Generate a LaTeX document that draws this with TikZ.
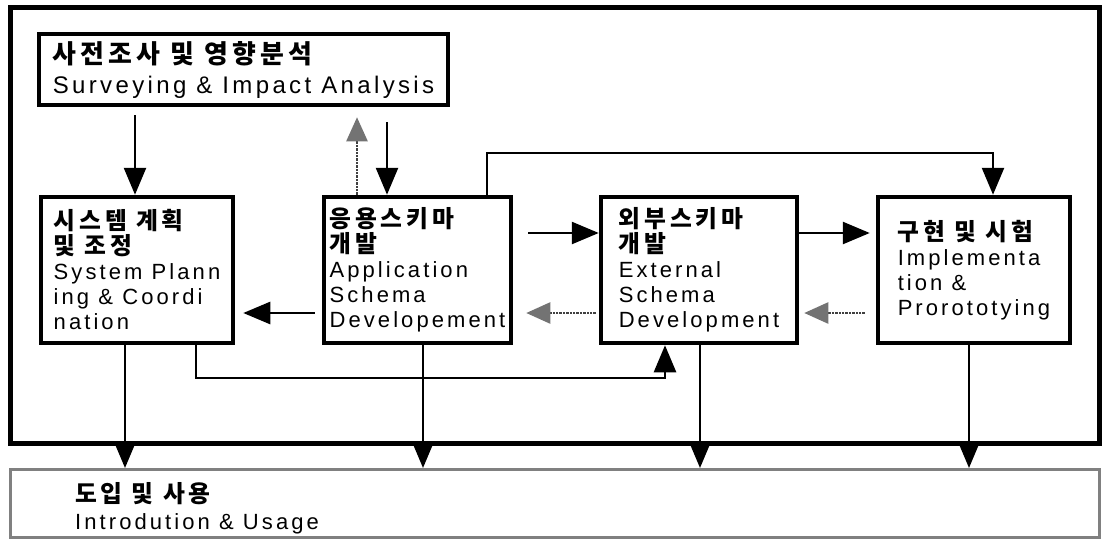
\documentclass[tikz,border=0pt]{standalone}
\usepackage{fontspec}
\setmainfont{Liberation Sans}[LetterSpace=14]
\newfontfamily\kr{Noto Sans CJK KR}[LetterSpace=16,Scale=1.08]
\usetikzlibrary{arrows.meta,calc}
\tikzset{
  stagebox/.style={draw, line width=4.5pt, minimum width=#1, minimum height=146pt,
    inner xsep=0pt, inner ysep=2pt, align=left, font=\fontsize{22}{25}\selectfont},
  arr/.style={line width=2.6pt, -{Triangle[length=27pt,width=22pt]}},
  garr/.style={line width=2.4pt, densely dotted, draw=black!75,
    -{Triangle[length=24pt,width=21pt,fill=black!55,color=black!55]}},
}
\begin{document}
\begin{tikzpicture}[x=1pt,y=-1pt]
\useasboundingbox (0,0) rectangle (1105,541);
% outer frame and bottom bar
\node[draw, line width=5.5pt, minimum width=1089pt, minimum height=436pt, inner sep=0] (F) at (555,225.5) {};
\node[draw=black!50, line width=3pt, minimum width=1089pt, minimum height=68pt, inner sep=0] (U) at (555.25,503.5) {};
\node[anchor=west, align=left, inner sep=0, font=\fontsize{22}{27}\selectfont] (UT) at (75,508.5)
  {{\kr\bfseries 도입 및 사용}\\Introdution \& Usage};
% top box
\node[draw, line width=4.5pt, minimum width=409pt, minimum height=71pt, inner xsep=0pt, align=left,
  font=\fontsize{24}{30}\selectfont] (T) at (243.5,69.5)
  {{\kr\bfseries 사전조사 및 영향분석}\\Surveying \& Impact Analysis};
% stage boxes
\node[stagebox=192pt] (A) at (137,270)
  {{\kr\bfseries 시스템 계획}\\{\kr\bfseries 및 조정}\\System Plann\\ing \& Coordi\\nation};
\node[stagebox=187pt] (B) at (417.5,270)
  {{\kr\bfseries 응용스키마}\\{\kr\bfseries 개발}\\Application\\Schema\\Developement};
\node[stagebox=196pt] (C) at (699,270)
  {{\kr\bfseries 외부스키마}\\{\kr\bfseries 개발}\\External\\Schema\\Development};
\node[stagebox=192pt] (D) at (974,270)
  {{\kr\bfseries 구현 및 시험}\\Implementa\\tion \&\\Prorototying};
% connectors
\draw[arr, shorten <=8pt] (T.south -| 135,0) -- (A.north -| 135,0);
\draw[garr, shorten >=10pt] (B.north -| 357,0) -- (T.south -| 357,0);
\draw[arr, shorten <=15pt] (T.south -| 387,0) -- (B.north -| 387,0);
\draw[arr] (B.north -| 487,0) |- (993,153) -- (D.north -| 993,0);
\draw[arr, shorten <=15pt] (B.east |- 0,233) -- (C.west |- 0,233);
\draw[arr, shorten >=6pt] (C.east |- 0,233) -- (D.west |- 0,233);
\draw[arr, shorten <=7pt, shorten >=8pt] (B.west |- 0,313) -- (A.east |- 0,313);
\draw[garr, shorten <=3pt, shorten >=13pt] (C.west |- 0,313) -- (B.east |- 0,313);
\draw[garr, shorten <=11pt, shorten >=5pt] (D.west |- 0,313) -- (C.east |- 0,313);
\draw[arr] (A.south -| 196,0) |- (665,378) -- (C.south -| 665,0);
\foreach \n/\x in {A/125,B/423,C/700,D/969}
  \draw[arr] (\n.south -| \x,0) -- (U.north -| \x,0);
\end{tikzpicture}
\end{document}
